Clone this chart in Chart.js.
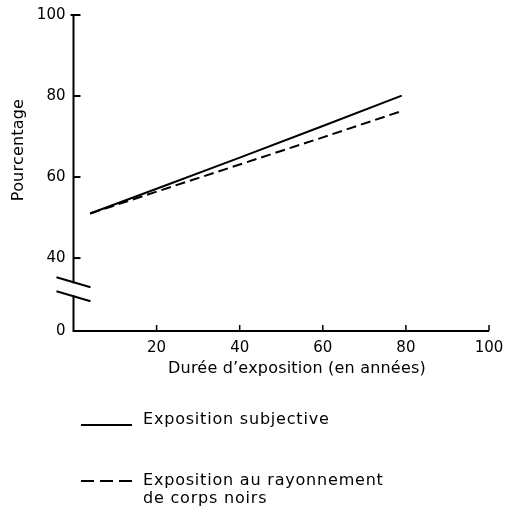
<!DOCTYPE html>
<html>
<head>
<meta charset="utf-8">
<script src="https://cdn.jsdelivr.net/npm/chart.js@4.4.1/dist/chart.umd.min.js"></script>
<style>
  html, body { margin: 0; padding: 0; background: #fff; }
  #wrap { width: 507px; height: 515px; }
</style>
</head>
<body>
<div id="wrap"><canvas id="chart"></canvas></div>
<script>
// values
const years = [4, 20, 40, 60, 79];
const subjective = [51, 57.1, 64.8, 72.6, 80.1];
const blackBody = [51, 56.4, 63.1, 69.8, 76.3];

const seriesNames = [
  ['Exposition subjective'],
  ['Exposition au rayonnement', 'de corps noirs']
];

const yTicks = [0, 40, 60, 80, 100];
const xTicks = [20, 40, 60, 80, 100];
const yBreakFloor = 22;   // the axis is broken: "0" sits where 22 would be
const yBreakAt = 32.3;    // where the two slashes cross the axis

const FONT = '"DejaVu Sans", sans-serif';

// axes, ticks, break marks, titles and legend drawn like the printed figure
const paperAxes = {
  id: 'paperAxes',
  afterDraw(chart) {
    const ctx = chart.ctx;
    const x = chart.scales.x, y = chart.scales.y;
    const a = chart.chartArea;
    const x0 = a.left, y0 = a.bottom;

    ctx.save();
    ctx.strokeStyle = '#000';
    ctx.fillStyle = '#000';
    ctx.lineWidth = 2;

    // axis lines
    ctx.beginPath();
    ctx.moveTo(x0, a.top);
    ctx.lineTo(x0, y0);
    ctx.lineTo(a.right, y0);
    ctx.stroke();

    // y ticks (pointing inward)
    yTicks.forEach(v => {
      if (v === 0) return;
      const py = y.getPixelForValue(v);
      ctx.beginPath();
      ctx.moveTo(v === 100 ? x0 - 3 : x0, py);
      ctx.lineTo(x0 + 7, py);
      ctx.stroke();
    });

    // x ticks (pointing up)
    ctx.lineWidth = 1.5;
    xTicks.forEach(v => {
      const px = x.getPixelForValue(v);
      ctx.beginPath();
      ctx.moveTo(px, y0);
      ctx.lineTo(px, y0 - 6);
      ctx.stroke();
    });

    // axis break
    const pb = y.getPixelForValue(yBreakAt);
    ctx.fillStyle = '#fff';
    ctx.fillRect(x0 - 2, pb - 6, 4, 12);
    ctx.fillStyle = '#000';
    ctx.lineWidth = 2;
    [-7, 7].forEach(off => {
      ctx.beginPath();
      ctx.moveTo(x0 - 17, pb + off - 5);
      ctx.lineTo(x0 + 17, pb + off + 5);
      ctx.stroke();
    });

    // axis titles
    ctx.font = '16px ' + FONT;
    ctx.textAlign = 'center';
    ctx.textBaseline = 'middle';
    ctx.letterSpacing = '0.2px';
    ctx.fillText('Durée d\u2019exposition (en années)', 297, 369);
    ctx.save();
    ctx.translate(19, 150);
    ctx.rotate(-Math.PI / 2);
    ctx.fillText('Pourcentage', 0, 0);
    ctx.restore();

    // legend
    const rows = [420, 481];
    const sampleY = [425, 481];
    ctx.textAlign = 'left';
    ctx.letterSpacing = '0.8px';
    chart.data.datasets.forEach((ds, i) => {
      ctx.lineWidth = 2;
      ctx.setLineDash(ds.borderDash ? [13, 6] : []);
      ctx.beginPath();
      ctx.moveTo(81, sampleY[i]);
      ctx.lineTo(132, sampleY[i]);
      ctx.stroke();
      ctx.setLineDash([]);
      seriesNames[i].forEach((line, k) => {
        ctx.fillText(line, 143, rows[i] + k * 18);
      });
    });
    ctx.restore();
  }
};

new Chart(document.getElementById('chart'), {
  type: 'line',
  data: {
    datasets: [
      {
        label: seriesNames[0].join(' '),
        data: years.map((yr, i) => ({ x: yr, y: subjective[i] })),
        borderColor: '#000',
        borderWidth: 2,
        pointRadius: 0,
        tension: 0
      },
      {
        label: seriesNames[1].join(' '),
        data: years.map((yr, i) => ({ x: yr, y: blackBody[i] })),
        borderColor: '#000',
        borderWidth: 2,
        borderDash: [10, 5],
        pointRadius: 0,
        tension: 0
      }
    ]
  },
  options: {
    responsive: true,
    maintainAspectRatio: false,
    animation: false,
    layout: { padding: { top: 15, right: 18, bottom: 140, left: 0 } },
    plugins: { legend: { display: false }, tooltip: { enabled: false } },
    scales: {
      x: {
        type: 'linear',
        min: 0,
        max: 100,
        grid: { display: false },
        border: { display: false },
        afterBuildTicks: (s) => { s.ticks = xTicks.map(v => ({ value: v })); },
        afterFit: (s) => { s.height = 44; },
        ticks: { color: '#000', font: { family: FONT, size: 15 }, padding: 0, maxRotation: 0 }
      },
      y: {
        type: 'linear',
        min: yBreakFloor,
        max: 100,
        grid: { display: false },
        border: { display: false },
        afterBuildTicks: (s) => {
          s.ticks = yTicks.map(v => ({ value: v === 0 ? yBreakFloor : v }));
        },
        afterFit: (s) => { s.width = 73.5; },
        ticks: {
          color: '#000',
          font: { family: FONT, size: 15 },
          padding: 0,
          callback: (v) => (v === yBreakFloor ? '0' : v)
        }
      }
    }
  },
  plugins: [paperAxes]
});
</script>
</body>
</html>
